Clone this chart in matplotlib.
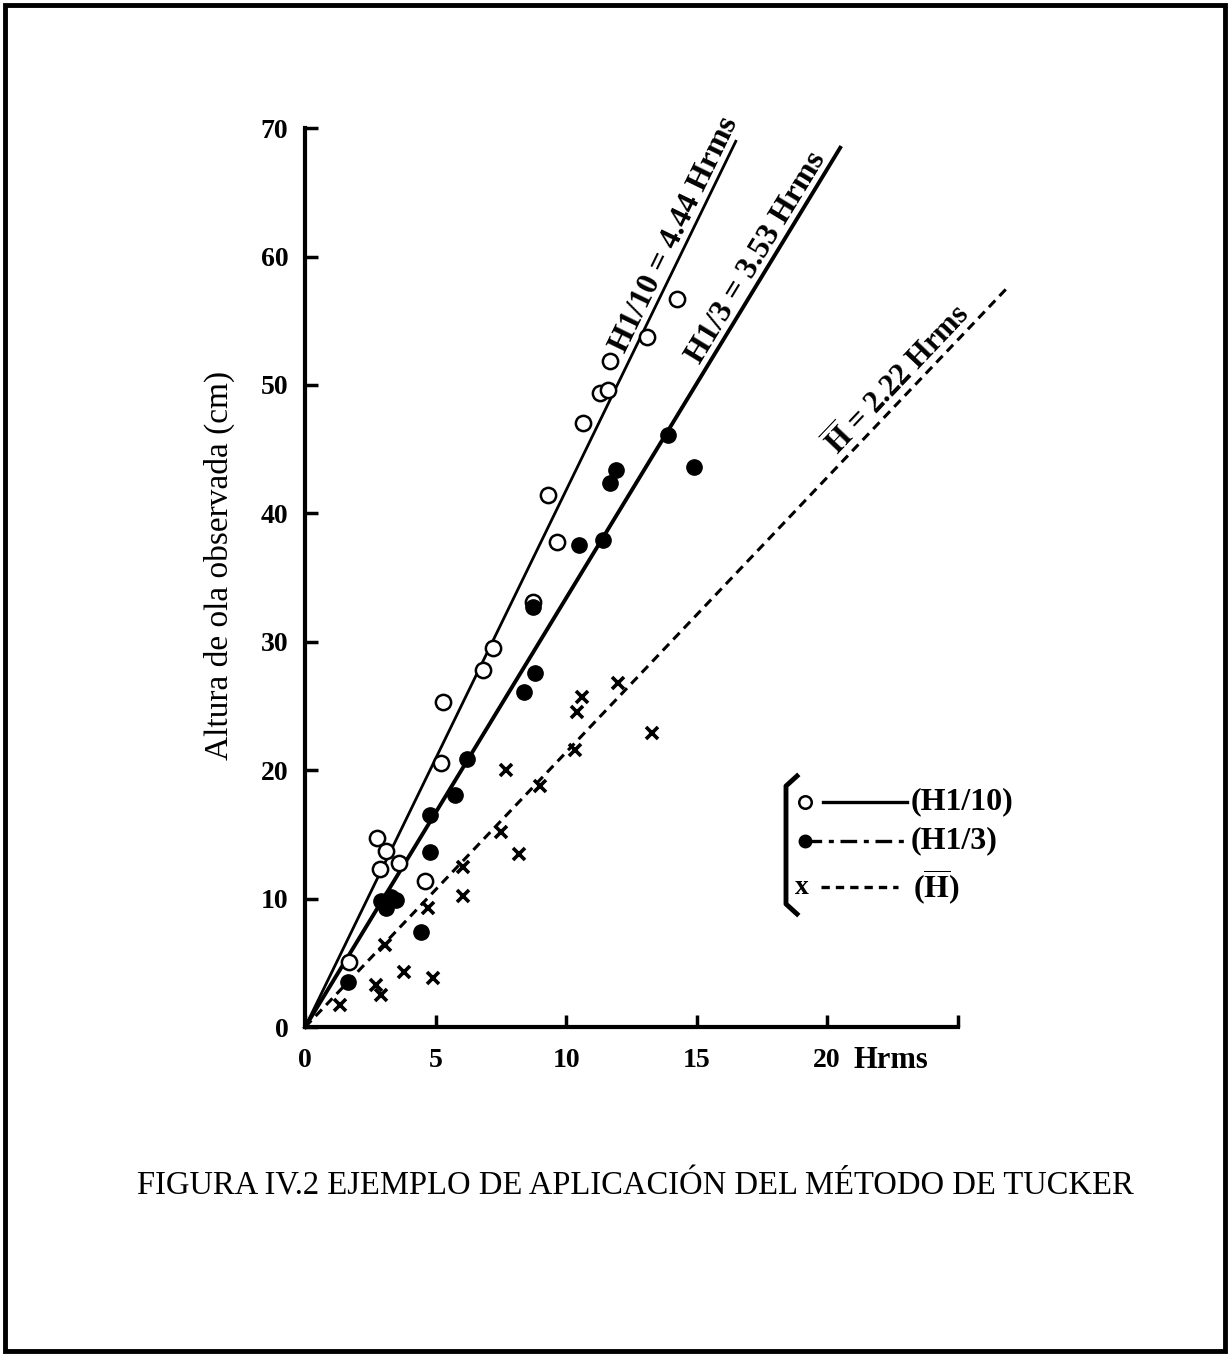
import numpy as np
import matplotlib
matplotlib.use("Agg")
import matplotlib.pyplot as plt
from matplotlib.lines import Line2D
from matplotlib.patches import Rectangle

plt.rcParams['font.family'] = ['Liberation Serif', 'DejaVu Serif']
plt.rcParams['mathtext.fontset'] = 'stix'

# observed wave heights (cm) against Hrms
h10_x = [1.7, 2.75, 3.1, 2.87, 3.6, 4.6, 5.2, 5.3, 6.8, 7.2, 8.74, 9.65, 9.3,
         10.65, 11.3, 11.6, 11.7, 13.1, 14.25]
h10_y = [5.1, 14.7, 13.7, 12.3, 12.8, 11.4, 20.6, 25.3, 27.8, 29.5, 33.1, 37.8,
         41.4, 47.0, 49.4, 49.6, 51.9, 53.7, 56.7]

h3_x = [1.65, 2.9, 3.1, 3.3, 3.5, 4.45, 4.8, 4.8, 5.75, 6.2, 8.4, 8.8, 8.74,
        10.5, 11.4, 11.7, 11.9, 13.9, 14.9]
h3_y = [3.5, 9.8, 9.3, 10.1, 9.9, 7.4, 13.6, 16.5, 18.1, 20.9, 26.1, 27.6, 32.7,
        37.5, 37.9, 42.4, 43.4, 46.1, 43.6]

hm_x = [1.35, 2.7, 2.9, 3.07, 3.8, 4.9, 4.7, 6.05, 6.05, 7.5, 8.2, 7.7, 9.0,
        10.35, 10.4, 10.6, 12.0, 13.3]
hm_y = [1.7, 3.3, 2.5, 6.4, 4.3, 3.8, 9.3, 10.2, 12.5, 15.2, 13.5, 20.0, 18.8,
        21.6, 24.5, 25.7, 26.8, 22.9]

# slopes as the lines are drawn on the sheet, and where each one stops
line_labels = ['H1/10 = 4.44 Hrms', 'H1/3 = 3.53 Hrms', r'$\mathbf{\overline{H}}$ = 2.22 Hrms']
k10, k3, km = 4.18, 3.34, 2.14
x10_end, x3_end, xm_end = 16.5, 20.5, 26.9

xticks = [0, 5, 10, 15, 20]
yticks = [0, 10, 20, 30, 40, 50, 60, 70]

W, H = 1230, 1356
fig = plt.figure(figsize=(W / 100, H / 100), dpi=100)

def fx(px):
    return px / W

def fy(py):
    return 1 - py / H

# page frame
fig.patches.append(Rectangle((fx(5), fy(1351)), (1225 - 5) / W, (1351 - 5) / H,
                             transform=fig.transFigure, fill=False, lw=3.5, ec='black'))

ax = fig.add_axes([fx(292), fy(1040), fx(1036 - 292), (1040 - 51) / H])
ax.set_xlim(-0.5, 28)
ax.set_ylim(-1, 76)

for side in ['top', 'right']:
    ax.spines[side].set_visible(False)
ax.spines['left'].set_position(('data', 0))
ax.spines['bottom'].set_position(('data', 0))
ax.spines['left'].set_bounds(0, 70)
ax.spines['bottom'].set_bounds(0, 25)
ax.spines['left'].set_linewidth(3)
ax.spines['bottom'].set_linewidth(3)

ax.set_xticks(xticks + [25])
ax.set_xticklabels([str(t) for t in xticks] + [''])
ax.set_yticks(yticks)
ax.set_yticklabels([str(t) for t in yticks])
ax.tick_params(direction='in', length=9, width=2.5, labelsize=20)
ax.tick_params(axis='y', pad=12)
ax.tick_params(axis='x', pad=15)
for lab in ax.get_xticklabels() + ax.get_yticklabels():
    lab.set_fontweight('bold')

fig.text(fx(854), fy(1061), 'Hrms', fontsize=22, fontweight='bold', ha='left', va='center')
ax.set_ylabel('Altura de ola observada (cm)', fontsize=24)
ax.yaxis.set_label_coords(-0.077, 0.48)

# fitted lines
xx = np.array([0, x10_end])
ax.plot(xx, k10 * xx, color='black', lw=2.0)
xx = np.array([0, x3_end])
ax.plot(xx, k3 * xx, color='black', lw=2.8)
xx = np.array([0, xm_end])
ax.plot(xx, km * xx, color='black', lw=2.2, dashes=(3, 2))

# observations
ax.plot(h10_x, h10_y, 'o', ms=11, mfc='white', mec='black', mew=1.8)
ax.plot(h3_x, h3_y, 'o', ms=11, mfc='black', mec='black')
ax.plot(hm_x, hm_y, 'x', ms=8, mec='black', mew=2.6)

# labels sitting along the lines (anchor on the line, text above it)
for lab, k, xa, size in zip(line_labels, [k10, k3, km], [14.65, 17.75, 23.15], [23, 23, 22]):
    ax.text(xa, k * xa, lab, fontsize=size, fontweight='bold',
            rotation=np.degrees(np.arctan(k)), transform_rotates_text=True,
            rotation_mode='anchor', ha='center', va='bottom')

# hand-drawn style legend with bracket
br_x = [fx(797), fx(786), fx(786), fx(797)]
br_y = [fy(776), fy(786), fy(904), fy(914)]
fig.lines.append(Line2D(br_x, br_y, transform=fig.transFigure, color='black', lw=3.5,
                        solid_joinstyle='round'))

rows = [802, 841, 887]
fig.lines.append(Line2D([fx(805)], [fy(rows[0])], transform=fig.transFigure, marker='o',
                        ms=9, mfc='white', mec='black', mew=1.8))
fig.lines.append(Line2D([fx(823), fx(907)], [fy(rows[0]), fy(rows[0])],
                        transform=fig.transFigure, color='black', lw=2.4))
fig.lines.append(Line2D([fx(805), fx(907)], [fy(rows[1]), fy(rows[1])],
                        transform=fig.transFigure, color='black', lw=2.4, dashes=(5, 2, 1.5, 2)))
fig.lines.append(Line2D([fx(805)], [fy(rows[1])], transform=fig.transFigure, marker='o',
                        ms=9, mfc='black', mec='black'))
fig.lines.append(Line2D([fx(821), fx(898)], [fy(rows[2]), fy(rows[2])],
                        transform=fig.transFigure, color='black', lw=2.4, dashes=(2.5, 1.8)))
fig.text(fx(795), fy(rows[2]), 'x', fontsize=20, fontweight='bold', ha='left', va='center')
fig.text(fx(911), fy(rows[0]), '(H1/10)', fontsize=23, fontweight='bold', ha='left', va='center')
fig.text(fx(911), fy(rows[1]), '(H1/3)', fontsize=23, fontweight='bold', ha='left', va='center')
fig.text(fx(913), fy(rows[2]), r'($\mathbf{\overline{H}}$)', fontsize=23, fontweight='bold',
         ha='left', va='center')

fig.text(fx(635), fy(1186), 'FIGURA IV.2 EJEMPLO DE APLICACIÓN DEL MÉTODO DE TUCKER',
         fontsize=23.5, ha='center', va='center')

fig.savefig('out.png', dpi=100)
